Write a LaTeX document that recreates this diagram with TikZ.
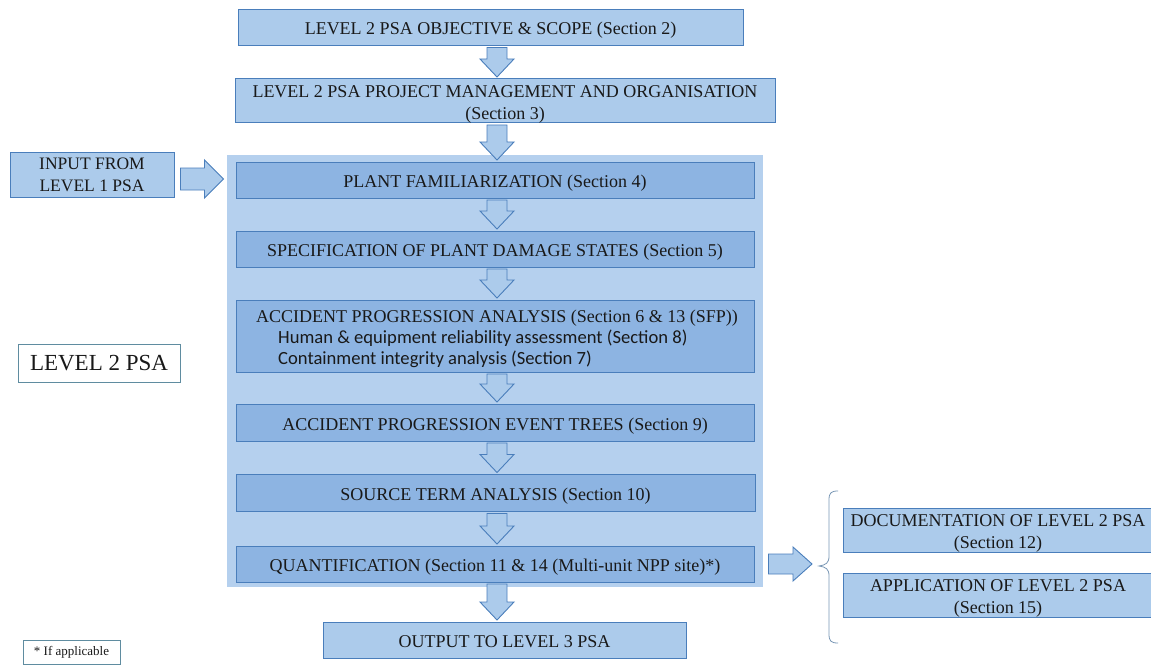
\documentclass[tikz,border=0pt]{standalone}
\usepackage{fontspec}
\setmainfont{Liberation Serif}
\newfontfamily\calibri{Carlito}
\usetikzlibrary{calc}
\definecolor{boxfill}{RGB}{172,203,235}
\definecolor{innerfill}{RGB}{141,180,226}
\definecolor{bgfill}{RGB}{181,208,238}
\definecolor{boxline}{RGB}{74,126,187}
\definecolor{txt}{RGB}{25,25,25}
\definecolor{notebox}{RGB}{95,140,160}
\definecolor{bracecol}{RGB}{120,150,180}
\tikzset{
  outerbox/.style={draw=boxline, fill=boxfill, line width=1pt, inner sep=0pt, align=center, text=txt, font=\fontsize{18}{21.5}\selectfont, text height=15pt, text depth=0pt},
  twoline/.style={text height=36.5pt},
  innerbox/.style={outerbox, fill=innerfill},
  blk/.style={draw=boxline, fill=boxfill, line width=0.9pt, line join=miter},
  plain/.style={inner sep=0pt, text=txt},
}
\newcommand{\downblk}[2]{%
  \path[blk] let \p1=($(#1.south)+(0,1.5)$), \p2=($(#2.north)+(0,-1.5)$) in
    (487pt,\y1) -- (507pt,\y1) -- (507pt,\y2+18pt) -- (514pt,\y2+18pt) -- (497pt,\y2)
    -- (480pt,\y2+18pt) -- (487pt,\y2+18pt) -- cycle;}
\newcommand{\rightblk}[4]{%
  \path[blk] let \p1=(#1), \p2=(#2) in
    (\x1,\y1+#3) -- (\x2-19pt,\y1+#3) -- (\x2-19pt,\y1+#4) -- (\x2,\y1)
    -- (\x2-19pt,\y1-#4) -- (\x2-19pt,\y1-#3) -- (\x1,\y1-#3) -- cycle;}
\begin{document}
\begin{tikzpicture}[x=1pt,y=-1pt]
\useasboundingbox (0,0) rectangle (1151,666);
% background of level 2 block
\node[fill=bgfill, minimum width=536, minimum height=432, inner sep=0pt] (bg) at (495,371) {};
% outer boxes
\node[outerbox, minimum width=505, minimum height=36] (obj) at (490.5,27.5) {LEVEL 2 PSA OBJECTIVE \& SCOPE (Section 2)};
\node[outerbox, twoline, minimum width=540, minimum height=44] (mgmt) at (505,101) {LEVEL 2 PSA PROJECT MANAGEMENT AND ORGANISATION\\(Section 3)};
\node[outerbox, minimum width=164, minimum height=44, font=\fontsize{17.5}{22}\selectfont, text height=33pt] (input) at (92,175) {INPUT FROM\\LEVEL 1 PSA};
% inner boxes
\node[innerbox, minimum width=518, minimum height=36] (plant) at (495,180) {PLANT FAMILIARIZATION (Section 4)};
\node[innerbox, minimum width=518, minimum height=36] (spec) at (495,249) {SPECIFICATION OF PLANT DAMAGE STATES (Section 5)};
\node[innerbox, minimum width=518, minimum height=72] (apa) at (495,336) {};
\node[plain, anchor=base, font=\fontsize{18}{21}\selectfont] (apa1) at (497,322) {ACCIDENT PROGRESSION ANALYSIS (Section 6 \& 13 (SFP))};
\node[plain, anchor=base west, font=\calibri\fontsize{18.6}{21}\selectfont] (apa2) at (278,343) {Human \& equipment reliability assessment (Section 8)};
\node[plain, anchor=base west, font=\calibri\fontsize{18.6}{21}\selectfont] (apa3) at (278,364) {Containment integrity analysis (Section 7)};
\node[innerbox, minimum width=518, minimum height=37] (evt) at (495,422.5) {ACCIDENT PROGRESSION EVENT TREES (Section 9)};
\node[innerbox, minimum width=519, minimum height=37] (src) at (495.5,493) {SOURCE TERM ANALYSIS (Section 10)};
\node[innerbox, minimum width=518, minimum height=36] (quant) at (495,564) {QUANTIFICATION (Section 11 \& 14 (Multi-unit NPP site)*)};
\node[outerbox, minimum width=363, minimum height=36] (out) at (504.5,640) {OUTPUT TO LEVEL 3 PSA};
\node[outerbox, twoline, minimum width=310, minimum height=44] (doc) at (998,530) {DOCUMENTATION OF LEVEL 2 PSA\\(Section 12)};
\node[outerbox, twoline, minimum width=310, minimum height=44] (app) at (998,595) {APPLICATION OF LEVEL 2 PSA\\(Section 15)};
% side labels
\node[draw=notebox, fill=white, line width=0.9pt, minimum width=162, minimum height=38, inner sep=0pt, text=txt, font=\fontsize{23}{25}\selectfont] (lvl) at (99,363) {LEVEL 2 PSA};
\node[draw=notebox, fill=white, line width=0.8pt, minimum width=97, minimum height=24, inner sep=0pt, text=txt, font=\fontsize{13}{15}\selectfont] (note) at (71.5,652) {* If applicable};
% block arrows
\downblk{obj}{mgmt}
\downblk{mgmt}{plant}
\downblk{plant}{spec}
\downblk{spec}{apa}
\downblk{apa}{evt}
\downblk{evt}{src}
\downblk{src}{quant}
\downblk{quant}{out}
\coordinate (inA) at ($(input.east)+(6,4)$);
\coordinate (inB) at ($(plant.west)+(-12,0)$);
\rightblk{inA}{inB}{11pt}{19pt}
\coordinate (qA) at ($(quant.east)+(14,0)$);
\coordinate (br) at (812,564);
\rightblk{qA}{br}{10pt}{17pt}
% brace
\draw[bracecol, line width=0.8pt] (838,491) .. controls (831,491) and (829,493) .. (829,500) -- (829,556)
  .. controls (829,563) and (826,565) .. (819,566) .. controls (826,567) and (829,569) .. (829,576)
  -- (829,634) .. controls (829,641) and (831,643) .. (838,643);
\end{tikzpicture}
\end{document}
